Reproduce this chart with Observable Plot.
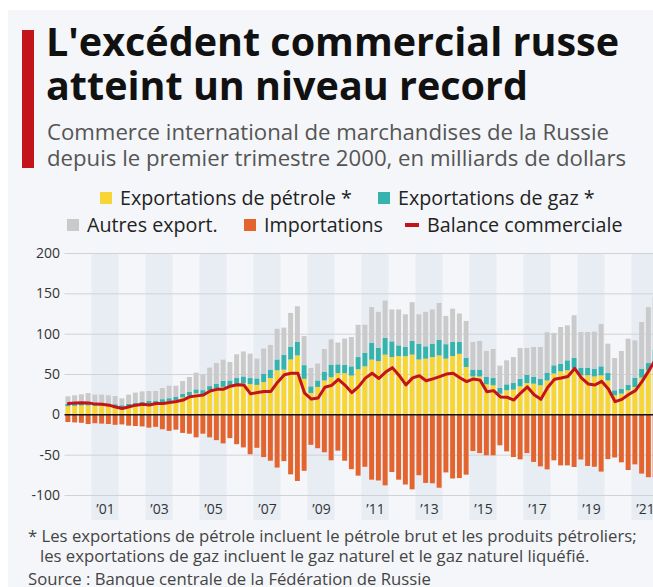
<!DOCTYPE html>
<html>
<head>
<meta charset="utf-8">
<script src="https://cdn.jsdelivr.net/npm/d3@7"></script>
<script src="https://cdn.jsdelivr.net/npm/@observablehq/plot@0.6"></script>
<style>
  html, body { margin: 0; padding: 0; width: 653px; height: 587px; overflow: hidden; background: #ffffff; font-family: "Open Sans", sans-serif; }
  #card { position: absolute; left: 8px; top: 10px; width: 700px; height: 600px; background: #f4f6f9; }
  .abs { position: absolute; white-space: nowrap; line-height: 1; }
  #bar { left: 22px; top: 30px; width: 12px; height: 138px; background: #c3131b; }
  .title { left: 46px; font-weight: 700; font-size: 39.5px; color: #111; }
  .sub { left: 47px; font-size: 22.2px; color: #555; }
  .leg { position: absolute; font-size: 19.7px; line-height: 1; color: #222; white-space: nowrap; display: flex; align-items: center; }
  .sw { display: inline-block; width: 12px; height: 12px; margin-right: 8px; }
  .dash { display: inline-block; width: 14px; height: 4px; margin-right: 8px; }
  #chart { position: absolute; left: 0; top: 240px; }
  #chart svg { max-width: none !important; }
  .foot { left: 28px; font-size: 16.7px; color: #444; }
</style>
</head>
<body>
<div id="card"></div>
<div id="bar" class="abs"></div>
<div class="abs title" style="top:22px">L'excédent commercial russe</div>
<div class="abs title" style="top:66px">atteint un niveau record</div>
<div class="abs sub" style="top:121px">Commerce international de marchandises de la Russie</div>
<div class="abs sub" style="top:147px">depuis le premier trimestre 2000, en milliards de dollars</div>
<div id="legend"></div>
<div id="chart"></div>
<div class="abs foot" style="top:528px">* Les exportations de pétrole incluent le pétrole brut et les produits pétroliers;</div>
<div class="abs foot" style="top:548px; left:40px">les exportations de gaz incluent le gaz naturel et le gaz naturel liquéfié.</div>
<div class="abs foot" style="top:571px">Source : Banque centrale de la Fédération de Russie</div>
<script>
// ---- Data (milliards de dollars, trimestriel, T1 2000 -> T4 2021) ----
const startYear = 2000;
const totalExports = [
  22.3, 23.6, 24.8, 26.4,  24.4, 24.4, 23.6, 22.7,  19.8, 24.4, 26.9, 28.5,  28.9, 28.9, 32.6, 35.5,
  35.5, 41.3, 46.3, 51.7,  49.0, 57.9, 63.6, 67.8,  64.9, 74.4, 78.0, 75.2,  69.0, 81.5, 86.0, 106.0,
  107.5, 125.7, 134.0, 97.0,  57.5, 63.0, 81.0, 93.0,  89.0, 94.0, 95.9, 111.0,  111.0, 133.0, 127.0, 141.0,
  130.0, 130.0, 124.0, 139.0,  124.0, 127.0, 130.0, 138.0,  122.0, 131.0, 125.0, 115.8,  89.7, 91.0, 78.6, 81.0,
  60.4, 67.0, 71.0, 82.3,  82.3, 83.5, 83.5, 101.7,  100.9, 108.3, 110.4, 122.8,  102.0, 102.0, 102.5, 112.0,
  87.6, 69.8, 78.5, 93.8,  91.7, 114.5, 133.0, 146.0
];
const oilExports = [
  10.0, 10.5, 11.0, 11.0,  10.5, 11.0, 10.5, 9.5,  8.5, 10.0, 11.0, 12.0,  13.0, 13.5, 15.0, 16.0,
  17.5, 21.0, 23.5, 26.0,  24.5, 30.0, 32.0, 34.0,  34.0, 37.0, 38.5, 37.5,  36.5, 40.0, 45.0, 54.6,
  55.4, 68.0, 73.0, 44.0,  26.5, 34.0, 42.0, 46.0,  51.0, 51.0, 48.0, 55.8,  59.5, 67.8, 66.0, 74.0,
  71.0, 72.3, 72.0, 74.0,  68.0, 69.0, 71.0, 73.0,  69.0, 72.3, 75.0, 58.7,  47.0, 47.0, 37.2, 36.0,
  25.6, 29.8, 30.6, 34.7,  38.8, 38.0, 36.0, 42.0,  50.5, 53.3, 54.6, 56.7,  48.4, 48.4, 47.0, 48.3,
  42.0, 23.6, 25.6, 29.8,  33.9, 45.5, 54.5, 62.0
];
const gasExports = [
  3.0, 3.0, 3.0, 3.2,  3.2, 3.0, 3.0, 3.0,  2.8, 3.0, 3.2, 3.5,  3.5, 3.5, 3.8, 4.0,
  4.0, 4.5, 4.5, 5.0,  5.5, 5.0, 6.0, 7.5,  8.0, 8.0, 8.5, 7.5,  8.0, 10.5, 10.5, 13.4,
  18.6, 16.0, 16.7, 17.0,  8.2, 8.0, 10.5, 15.6,  11.0, 10.6, 11.5, 15.2,  16.9, 21.0, 16.6, 20.6,
  19.5, 13.2, 11.5, 17.0,  19.6, 15.3, 16.6, 19.6,  18.0, 17.4, 14.7, 11.6,  8.4, 8.4, 9.1, 9.0,
  7.1, 7.4, 8.2, 9.3,  10.2, 8.3, 8.0, 9.7,  10.3, 9.5, 12.4, 13.2,  9.5, 9.5, 9.6, 11.2,
  9.2, 6.2, 6.2, 7.0,  11.6, 11.1, 9.1, 18.0
];
const imports = [
  -9.5, -10.0, -10.5, -12.0,  -11.0, -11.5, -12.0, -13.0,  -12.5, -14.0, -14.5, -15.0,  -16.5, -15.5, -18.5, -20.5,
  -19.0, -23.0, -24.0, -28.5,  -24.0, -28.5, -32.0, -36.0,  -29.5, -37.0, -41.0, -49.5,  -41.5, -53.0, -57.5, -66.0,
  -58.0, -74.4, -82.6, -70.0,  -37.8, -42.0, -47.0, -57.0,  -45.0, -57.5, -68.0, -76.0,  -65.0, -81.0, -82.0, -88.0,
  -71.5, -81.0, -87.0, -93.0,  -75.5, -85.0, -85.5, -91.0,  -72.0, -79.5, -79.0, -74.8,  -45.5, -48.0, -50.8, -50.8,
  -38.4, -45.9, -52.9, -55.8,  -48.0, -59.0, -64.5, -68.2,  -57.0, -63.3, -63.3, -65.3,  -56.0, -64.0, -65.0, -71.0,
  -55.5, -53.5, -59.5, -69.0,  -62.0, -73.5, -78.0, -78.0
];
const tradeBalance = [
  14.0, 14.8, 15.0, 14.8,  13.3, 13.0, 12.0, 9.8,  7.8, 10.0, 12.0, 13.2,  12.2, 14.0, 14.0, 15.2,
  16.5, 18.3, 22.5, 23.5,  24.5, 29.6, 31.6, 31.8,  35.5, 37.2, 37.0, 26.0,  27.7, 28.9, 29.0, 40.5,
  49.8, 51.5, 51.5, 26.8,  19.6, 20.8, 34.2, 36.5,  44.0, 36.6, 27.5, 35.0,  45.5, 51.5, 45.0, 53.0,
  58.5, 48.8, 37.0, 45.8,  48.4, 42.2, 44.6, 47.3,  50.5, 51.5, 46.0, 41.2,  44.5, 43.0, 28.5, 30.0,
  22.2, 21.8, 18.3, 27.0,  34.6, 25.0, 19.2, 33.8,  44.0, 45.6, 47.6, 57.5,  45.8, 38.3, 37.0, 41.5,
  32.0, 16.3, 19.2, 25.2,  30.0, 41.5, 54.8, 69.0
];
const yTicks = [-100, -50, 0, 50, 100, 150, 200];
const labelYears = [2001, 2003, 2005, 2007, 2009, 2011, 2013, 2015, 2017, 2019, 2021];
const labelTexts = ["’01", "’03", "’05", "’07", "’09", "’11", "’13", "’15", "’17", "’19", "’21"];
const shadedYears = [2001, 2003, 2005, 2007, 2009, 2011, 2013, 2015, 2017, 2019, 2021];

const seriesNames = ["Exportations de pétrole *", "Exportations de gaz *", "Autres export.", "Importations", "Balance commerciale"];
const seriesColors = ["#f6d535", "#37b3ae", "#cacaca", "#e3642f", "#c3131b"];

// ---- Legend ----
const legend = document.getElementById("legend");
const rows = [
  {top: 188, items: [[0, "sw", 100], [1, "sw", 378]]},
  {top: 215, items: [[2, "sw", 67], [3, "sw", 244], [4, "dash", 405]]}
];
for (const r of rows) {
  for (const [i, kind, left] of r.items) {
    const d = document.createElement("div");
    d.className = "leg";
    d.style.left = left + "px";
    d.style.top = r.top + "px";
    const s = document.createElement("span");
    s.className = kind;
    s.style.background = seriesColors[i];
    d.appendChild(s);
    d.appendChild(document.createTextNode(seriesNames[i]));
    legend.appendChild(d);
  }
}

// ---- Table ----
const rowsData = totalExports.map((tot, i) => {
  const t = startYear + i / 4;
  const oil = oilExports[i], gas = gasExports[i];
  return {t, tot, oil, gas, imp: imports[i], bal: tradeBalance[i]};
});

const bandW = 0.25;
const common = {x1: d => d.t, x2: d => d.t + bandW, insetLeft: 0.9, insetRight: 0.9};

const chart = Plot.plot({
  width: 682,
  height: 285,
  marginLeft: 64.5,
  marginRight: 10,
  marginTop: 13,
  marginBottom: 30,
  x: {domain: [2000, 2022.5], axis: null},
  y: {domain: [-100, 200], axis: null},
  style: {background: "transparent", fontFamily: "Open Sans, sans-serif", fontSize: "13px", overflow: "visible", maxWidth: "none"},
  marks: [
    Plot.rectY(shadedYears, {x1: d => d, x2: d => d + 1, y1: 200, y2: -131, fill: "#e8ecf3"}),
    Plot.ruleY(yTicks.filter(v => v !== 0), {stroke: "#cfd2d6", strokeWidth: 1}),
    Plot.rectY(rowsData, {...common, y1: 0, y2: d => d.oil, fill: seriesColors[0]}),
    Plot.rectY(rowsData, {...common, y1: d => d.oil, y2: d => d.oil + d.gas, fill: seriesColors[1]}),
    Plot.rectY(rowsData, {...common, y1: d => d.oil + d.gas, y2: d => d.tot, fill: seriesColors[2]}),
    Plot.rectY(rowsData, {...common, y1: 0, y2: d => d.imp, fill: seriesColors[3]}),
    Plot.ruleY([0], {stroke: "#111", strokeWidth: 1.5}),
    Plot.line(rowsData, {x: d => d.t + bandW / 2, y: "bal", stroke: seriesColors[4], strokeWidth: 3, strokeLinejoin: "round"}),
    Plot.text(yTicks, {x: 2000, y: d => d, text: d => String(d), textAnchor: "end", dx: -5, fill: "#333", fontSize: 14}),
    Plot.text(labelYears, {x: d => d + 0.5, y: -100, text: (d, i) => labelTexts[i], dy: 14, fill: "#333", fontSize: 14})
  ]
});
document.getElementById("chart").appendChild(chart);
</script>
</body>
</html>
